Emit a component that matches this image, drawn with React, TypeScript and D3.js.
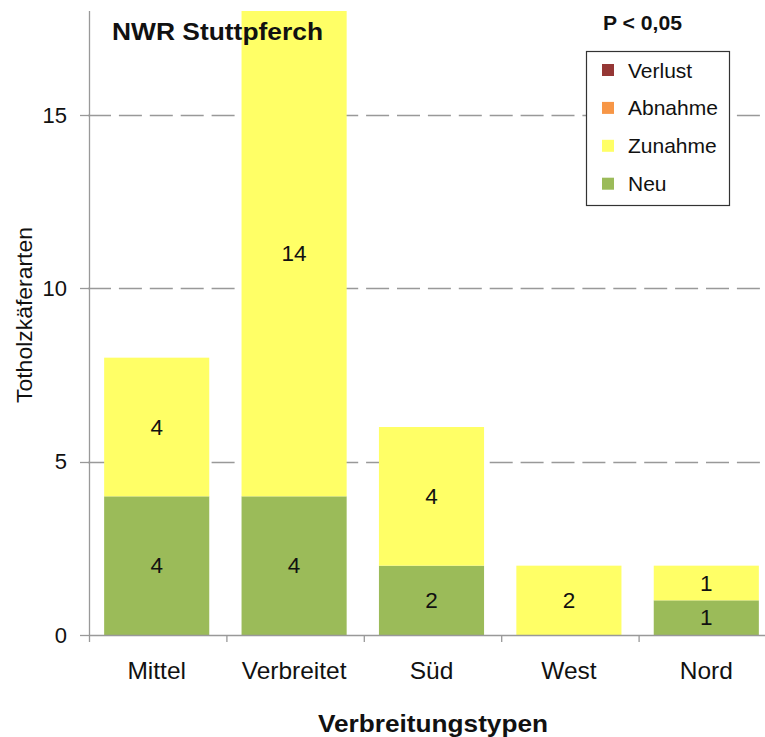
import React from "react";
import * as d3 from "d3";

const categories = ["Mittel", "Verbreitet", "Süd", "West", "Nord"];
const neu = [4, 4, 2, 0, 1];
const zunahme = [4, 14, 4, 2, 1];
const abnahme = [0, 0, 0, 0, 0];
const verlust = [0, 0, 0, 0, 0];
const seriesNames = ["Neu", "Zunahme", "Abnahme", "Verlust"];
const seriesColors = ["#9BBB59", "#FFFF66", "#F79646", "#953735"];
const yTicks = [0, 5, 10, 15];
const yMax = 18;
const title = "NWR Stuttpferch";
const pLabel = "P < 0,05";
const xTitle = "Verbreitungstypen";
const yTitle = "Totholzkäferarten";

const W = 765;
const H = 737;
const FONT = "'Liberation Sans', Arial, Helvetica, sans-serif";

export default function App() {
  const rows = categories.map((c, i) => ({
    cat: c,
    Neu: neu[i],
    Zunahme: zunahme[i],
    Abnahme: abnahme[i],
    Verlust: verlust[i],
  }));
  const stack = d3.stack<any>().keys(seriesNames)(rows);

  const x = d3.scaleBand<string>().domain(categories).range([88, 775]).paddingInner(0).paddingOuter(0);
  const y = d3.scaleLinear().domain([0, yMax]).range([635, 11]);
  const bw = x.bandwidth();
  const barW = bw * 0.765;
  const axisX = 89.5;
  const baseY = y(0);

  const legendItems = seriesNames.map((n, i) => ({ name: n, color: seriesColors[i] })).reverse();

  return (
    <svg
      width={W}
      height={H}
      style={{ position: "absolute", left: 0, top: 0, background: "#fff" }}
      fontFamily={FONT}
    >
      <rect x={0} y={0} width={W} height={H} fill="#fff" />
      {yTicks
        .filter((t) => t > 0)
        .map((t) => (
          <line
            key={"g" + t}
            x1={88}
            x2={W}
            y1={Math.round(y(t)) + 0.5}
            y2={Math.round(y(t)) + 0.5}
            stroke="#999"
            strokeWidth={1.3}
            strokeDasharray="23,7.9"
          />
        ))}
      {stack.map((s, si) =>
        s.map((d, i) => {
          const v = d[1] - d[0];
          if (v <= 0) return null;
          const cx = (x(categories[i]) as number) + bw / 2;
          return (
            <g key={si + "-" + i}>
              <rect
                x={cx - barW / 2}
                y={y(d[1])}
                width={barW}
                height={y(d[0]) - y(d[1])}
                fill={seriesColors[si]}
              />
              <text
                x={cx}
                y={(y(d[0]) + y(d[1])) / 2}
                textAnchor="middle"
                dominantBaseline="central"
                fontSize={22.5}
                fill="#111"
              >
                {v}
              </text>
            </g>
          );
        })
      )}
      <line x1={axisX} x2={axisX} y1={11} y2={642} stroke="#999" strokeWidth={1.3} />
      <line x1={axisX} x2={W} y1={baseY + 0.5} y2={baseY + 0.5} stroke="#999" strokeWidth={1.3} />
      {yTicks.map((t) => (
        <g key={"yt" + t}>
          <line x1={80} x2={axisX} y1={Math.round(y(t)) + 0.5} y2={Math.round(y(t)) + 0.5} stroke="#999" strokeWidth={1.3} />
          <text x={67} y={y(t)} textAnchor="end" dominantBaseline="central" fontSize={22} fill="#111">
            {t}
          </text>
        </g>
      ))}
      {categories.map((c, i) => {
        const x0 = (x(c) as number) + 1.5;
        return (
          <g key={"xt" + c}>
            {i > 0 && <line x1={x0} x2={x0} y1={baseY} y2={642} stroke="#999" strokeWidth={1.3} />}
            <text x={(x(c) as number) + bw / 2} y={679} textAnchor="middle" fontSize={24.5} fill="#111">
              {c}
            </text>
          </g>
        );
      })}
      <text x={112} y={40} fontSize={24} fontWeight="bold" fill="#111" textLength={211} lengthAdjust="spacingAndGlyphs">
        {title}
      </text>
      <text x={433} y={732} textAnchor="middle" fontSize={24} fontWeight="bold" fill="#111" textLength={230} lengthAdjust="spacingAndGlyphs">
        {xTitle}
      </text>
      <text
        transform={`translate(32,315) rotate(-90)`}
        textAnchor="middle"
        fontSize={22}
        fill="#111"
        textLength={176}
        lengthAdjust="spacingAndGlyphs"
      >
        {yTitle}
      </text>
      <text x={642.5} y={30} textAnchor="middle" fontSize={20} fontWeight="bold" fill="#111" textLength={79} lengthAdjust="spacingAndGlyphs">
        {pLabel}
      </text>
      <rect x={586.5} y={51.5} width={143} height={154} fill="#fff" stroke="#333" strokeWidth={1.2} />
      {legendItems.map((it, i) => {
        const cy = 70 + i * 37.9;
        return (
          <g key={"lg" + it.name}>
            <rect x={602} y={cy - 6} width={12} height={12} fill={it.color} />
            <text x={628} y={cy} dominantBaseline="central" fontSize={21} fill="#111">
              {it.name}
            </text>
          </g>
        );
      })}
    </svg>
  );
}
